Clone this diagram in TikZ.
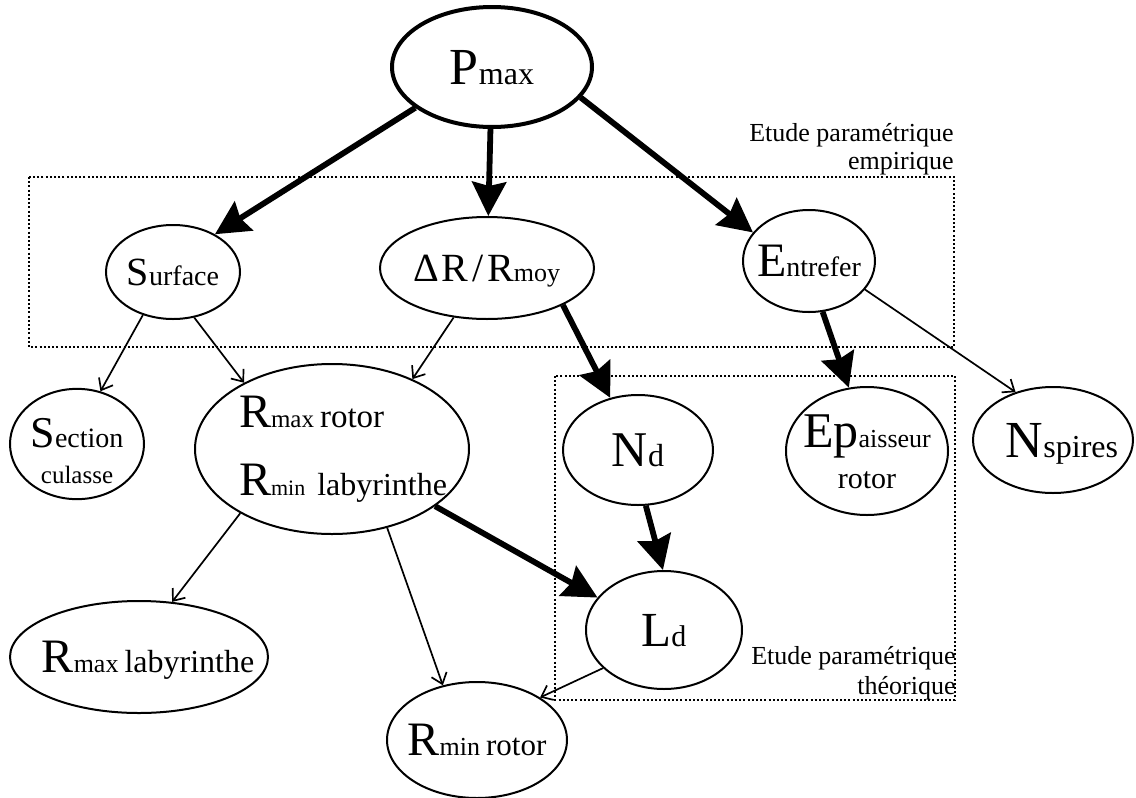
\documentclass[tikz,border=0pt]{standalone}
\usepackage{fontspec}
\setmainfont{Liberation Serif}
\usetikzlibrary{shapes.geometric}
\usetikzlibrary{arrows.meta}

\newcommand{\tx}[2]{{\fontsize{#1}{#1}\selectfont #2}}
\newcommand{\zw}[1]{\makebox[0pt]{#1}}
\newcommand{\deux}[4]{\makebox[0pt]{\fontsize{12}{#1}\selectfont\begin{tabular}[b]{@{}#2@{}}#3\\#4\end{tabular}}}

\begin{document}
\begin{tikzpicture}
        [ x=0.5pt, y=-0.5pt
        , ell/.style 2 args={ellipse, draw, line width=1pt, inner sep=0pt, minimum width=#1, minimum height=#2, text depth=0pt}
        , heavy/.style={line width=2.9pt, -{Stealth[length=17pt, width=17pt, inset=2pt]}}
        , lightarrow/.style={line width=0.85pt, -{Straight Barb[length=5pt, width=8pt]}}
        , zone/.style={line width=1.4pt, dash pattern=on 1pt off 1.1pt}
        , legend/.style={inner sep=0pt, text depth=0pt, anchor=south east}
        ]
                \useasboundingbox (0,0) rectangle (1136,798);
                \draw[zone] (29,177) rectangle (954,347);
                \draw[zone] (555,376) rectangle (955,700);

                \node[ell={100pt}{60pt}, line width=2pt] (pmax) at (492,67) {\zw{\tx{26}{P}\tx{16}{max}}};
                \node[ell={67pt}{47pt}] (surface) at (173,272) {\zw{\tx{20}{S}\tx{14}{urface}}};
                \node[ell={107pt}{51pt}] (dr) at (487,268) {\zw{\tx{20}{Δ\kern1pt R\kern2pt/\kern2pt R}\tx{13}{moy}}};
                \node[ell={66pt}{51pt}] (entrefer) at (809,261) {\zw{\tx{24}{E}\tx{14}{ntrefer}}};
                \node[ell={67pt}{49pt}, text height=39pt] (section) at (77,444) {\deux{18}{c}{\tx{22}{S}\tx{14}{ection}}{\tx{12.5}{culasse}}};
                \node[ell={137pt}{85pt}, text height=46pt] (rmaxrotor) at (332,449) {\hspace*{11pt}\deux{34}{l}{\tx{24}{R}\tx{12.5}{max}\hspace{3pt}\tx{16.5}{rotor}}{\tx{24}{R}\tx{11}{min}\hspace{6pt}\tx{16}{labyrinthe}}};
                \node[ell={75pt}{55pt}] (nd) at (638,450) {\zw{\tx{25}{N}\tx{16}{d}}};
                \node[ell={81pt}{64pt}, text height=37pt] (ep) at (867,451) {\deux{20.5}{c}{\tx{25}{Ep}\tx{13}{aisseur}}{\tx{15}{rotor}}};
                \node[ell={80pt}{53pt}] (nspires) at (1053,440) {\hspace*{9pt}\zw{\tx{26}{N}\tx{16}{spires}}};
                \node[ell={78pt}{59pt}] (ld) at (664,630) {\zw{\tx{24.5}{L}\tx{15}{d}}};
                \node[ell={129pt}{56pt}] (rmaxlab) at (139,657) {\hspace*{9pt}\zw{\tx{24}{R}\tx{13}{max}\hspace{3pt}\tx{16}{labyrinthe}}};
                \node[ell={90pt}{58pt}] (rminrotor) at (477,740) {\zw{\tx{24}{R}\tx{13}{min}\hspace{3pt}\tx{15.5}{rotor}}};

                \node[legend] (empir) at (954,170) {\fontsize{13}{14}\selectfont\begin{tabular}[b]{@{}r@{}}Etude paramétrique\\empirique\end{tabular}};
                \node[legend] (theor) at (956,695) {\fontsize{13}{15}\selectfont\begin{tabular}[b]{@{}r@{}}Etude paramétrique\\théorique\end{tabular}};

                \draw[heavy] (pmax.-152) -- (surface.42);
                \draw[heavy] (pmax) -- (dr);
                \draw[heavy] (pmax.-19) -- (entrefer.153);
                \draw[lightarrow] (surface.-125) -- (section.66);
                \draw[lightarrow] (surface.-65) -- (rmaxrotor.143);
                \draw[lightarrow] (dr.-124) -- (rmaxrotor.41);
                \draw[heavy] (dr.-26) -- (nd.118);
                \draw[heavy] (entrefer.-75) -- (ep.106);
                \draw[lightarrow] (entrefer.-27) -- (nspires.128);
                \draw[lightarrow] (rmaxrotor.-145) -- (rmaxlab.59);
                \draw[lightarrow] (rmaxrotor.-55) -- (rminrotor.122);
                \draw[heavy] (rmaxrotor.-29) -- (ld.154);
                \draw[heavy] (nd.-82) -- (ld.91);
                \draw[lightarrow] (ld.-148) -- (rminrotor.34);
\end{tikzpicture}
\end{document}
